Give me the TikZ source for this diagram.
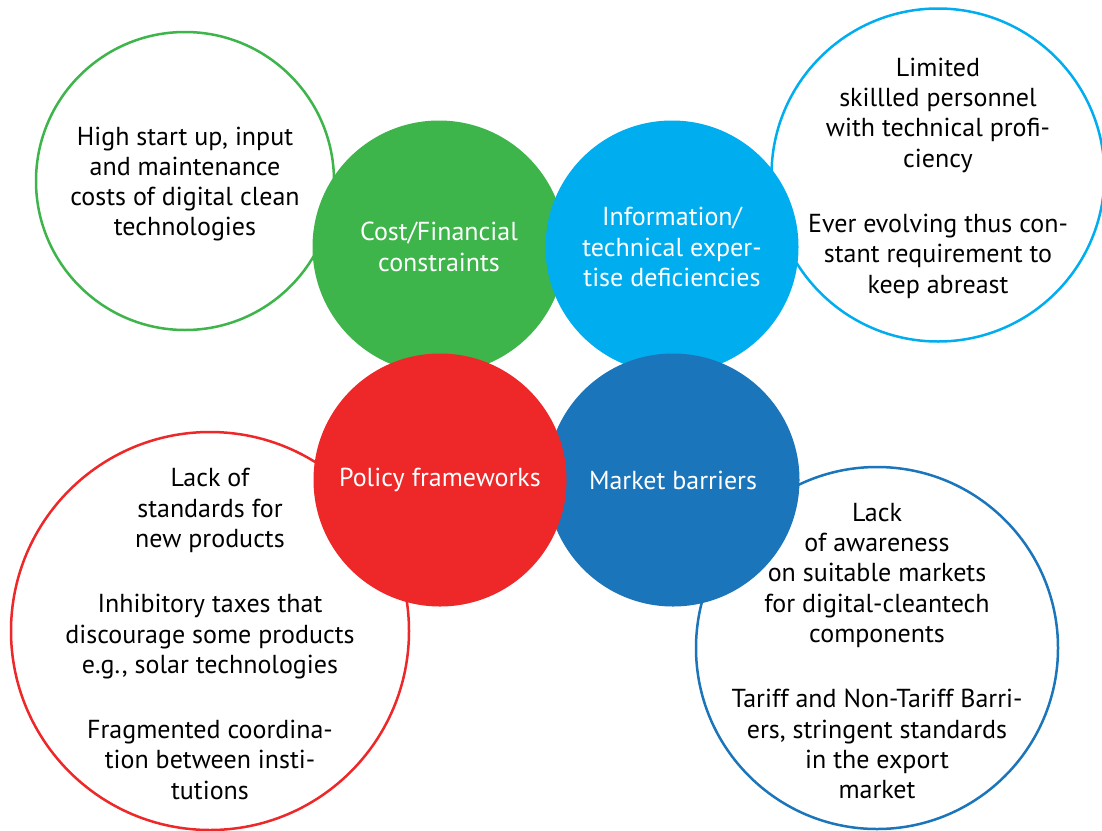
\documentclass[tikz,border=0pt]{standalone}
\usepackage{fontspec}
\setmainfont{PT Sans}
\definecolor{cgreen}{HTML}{3DB54A}
\definecolor{clight}{HTML}{00AEEF}
\definecolor{cdark}{HTML}{1B75BB}
\definecolor{cred}{HTML}{EE2728}
\begin{document}
\begin{tikzpicture}[x=1pt,y=-1pt,
  txt/.style={align=center,font=\fontsize{26}{30.3}\selectfont,inner sep=0pt},
  ringtxt/.style={txt,yshift=-3pt},
  hub/.style={circle,minimum size=253pt,inner sep=0pt,text=white,txt},
  ring/.style={circle,inner sep=0pt,line width=2.5pt,fill=white}]
\fill[white] (0,0) rectangle (1102,830);
\useasboundingbox (0,0) rectangle (1102,830);
% outer detail rings
\node[ring,draw=cgreen,minimum size=298pt] (costring) at (185,181) {};
\node[ring,draw=clight,minimum size=333pt] (inforing) at (938,175) {};
\node[ring,draw=cred,minimum size=398pt] (policyring) at (210,631) {};
\node[ring,draw=cdark,minimum size=362pt] (marketring) at (877,648) {};
% ring texts
\node[ringtxt] (costtext) at (costring.center)
  {High start up, input\\and maintenance\\costs of digital clean\\technologies};
\node[ringtxt] (infotext) at (inforing.center)
  {Limited\\skillled personnel\\with technical profi-\\ciency\\[35pt]Ever evolving thus con-\\stant requirement to\\keep abreast};
\node[ringtxt] (policytext) at (policyring.center)
  {Lack of\\standards for\\new products\\[35pt]Inhibitory taxes that\\discourage some products\\e.g., solar technologies\\[35pt]Fragmented coordina-\\tion between insti-\\tutions};
\node[ringtxt] (markettext) at (marketring.center)
  {Lack\\of awareness\\on suitable markets\\for digital-cleantech\\components\\[35pt]Tariff and Non-Tariff Barri-\\ers, stringent standards\\in the export\\market};
% central filled circles
\node[hub,fill=cgreen] (cost) at (439,247) {Cost/Financial\\constraints};
\node[hub,fill=clight] (info) at (672,247) {Information/\\technical exper-\\tise deficiencies};
\node[hub,fill=cdark] (market) at (673,480) {Market barriers};
\node[hub,fill=cred] (policy) at (440,480) {Policy frameworks};
\end{tikzpicture}
\end{document}
